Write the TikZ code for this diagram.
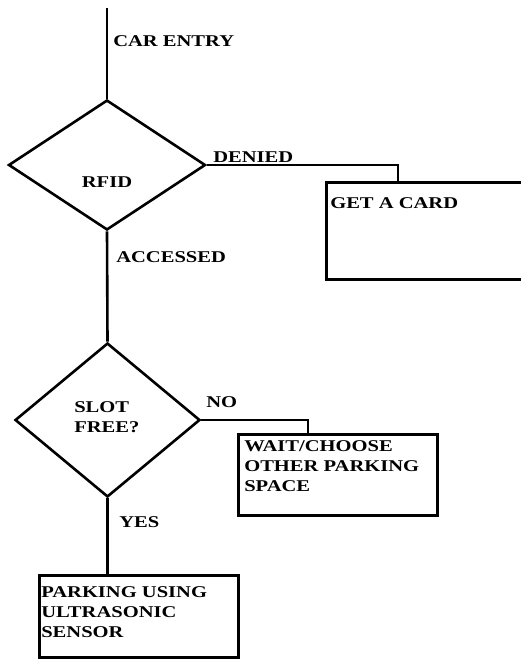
\documentclass[tikz,border=0pt]{standalone}
\usepackage{fontspec}
\setmainfont{Liberation Serif}[FakeStretch=1.25]
\usetikzlibrary{shapes.geometric}

\begin{document}
\begin{tikzpicture}[x=1bp,y=-1bp,line width=2.6bp,
		decision/.style={draw,diamond,inner sep=0pt},
		box/.style={draw,rectangle,inner sep=0pt,anchor=north west},
		lbl/.style={anchor=base west,inner sep=0pt,font=\fontsize{16.5}{20}\selectfont\bfseries,align=left}]
			\useasboundingbox (0,0) rectangle (521,659);
			% decisions
			\node[decision,minimum width=197bp,minimum height=130bp,
				label={[lbl,anchor=base,yshift=-17bp]center:RFID}] (rfid) at (107,165) {};
			\node[decision,minimum width=185bp,minimum height=154bp] (slot) at (107.5,420) {};
			\node[lbl] (slottxt) at (73,432) {SLOT\\FREE?};
			% boxes
			\node[box,minimum width=200bp,minimum height=97bp] (card) at (325,181) {};
			\node[box,minimum width=199bp,minimum height=81bp] (wait) at (237,433) {};
			\node[box,minimum width=199bp,minimum height=82bp] (park) at (38,574) {};
			\node[lbl] (cardtxt) at (329,208) {GET A CARD};
			\node[lbl] (waittxt) at (243,491) {WAIT/CHOOSE\\OTHER PARKING\\SPACE};
			\node[lbl] (parktxt) at (40,637) {PARKING USING\\ULTRASONIC\\SENSOR};
			% connectors
			\coordinate (entry) at (107,8);
			\coordinate (cardin) at (398,181);
			\coordinate (waitin) at (308,433);
			\draw (entry) -- (rfid.north);
			\draw (rfid.south) -- (slot.north);
			\draw (rfid.east) -| (cardin);
			\draw (slot.east) -| (waitin);
			\draw (slot.south) -- (slot.south |- park.north);
			% labels
			\node[lbl] (entrylbl) at (112,47) {CAR ENTRY};
			\node[lbl] (deniedlbl) at (212,162) {DENIED};
			\node[lbl] (accesslbl) at (115,262) {ACCESSED};
			\node[lbl] (nolbl) at (205,407) {NO};
			\node[lbl] (yeslbl) at (118,527) {YES};
		\end{tikzpicture}
\end{document}
